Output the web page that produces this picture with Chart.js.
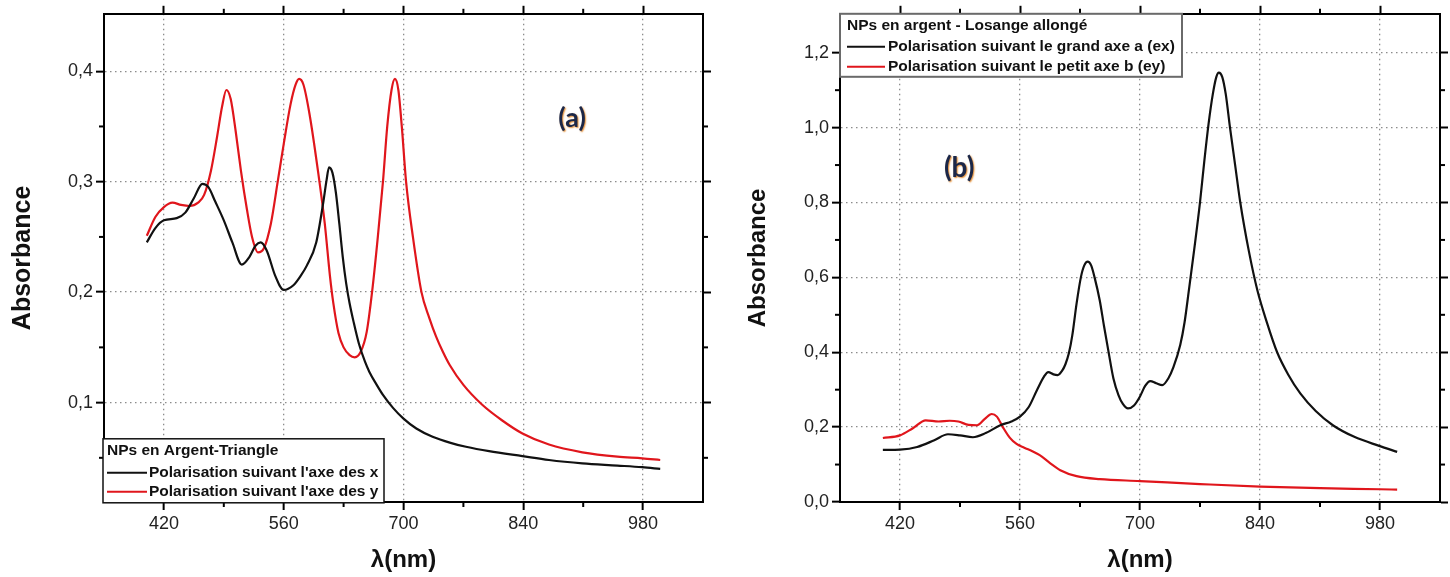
<!DOCTYPE html>
<html><head><meta charset="utf-8">
<script src="https://cdn.jsdelivr.net/npm/chart.js@4/dist/chart.umd.min.js"></script>
<style>
html,body{margin:0;padding:0;background:#fff;}
#wrap{position:relative;width:1450px;height:577px;overflow:hidden;background:#fff;}
.box{position:absolute;top:0;width:725px;height:577px;}
</style></head><body>
<div id="wrap">
<div class="box" style="left:0"><canvas id="ca" width="725" height="577"></canvas></div>
<div class="box" style="left:725px"><canvas id="cb" width="725" height="577"></canvas></div>
</div>
<script>
// ---------- DATA : panel (a) NPs en Argent-Triangle ----------
const aBlackWl  = [400,410,420,435,445,455,465,472,480,490,500,511,520,527,533,540,550,560,571,580,587,598,606,610,613,617,621,625,629,633,637,642,648,655,660,668,676,688,700,715,734,755,773,800,839,870,909,950,979,1000];
const aBlackAbs = [0.245,0.258,0.265,0.267,0.272,0.285,0.298,0.295,0.282,0.265,0.245,0.225,0.232,0.242,0.245,0.238,0.215,0.202,0.206,0.215,0.224,0.245,0.280,0.301,0.313,0.308,0.290,0.262,0.232,0.208,0.190,0.172,0.153,0.137,0.128,0.117,0.107,0.095,0.0855,0.0765,0.069,0.0635,0.060,0.056,0.0515,0.048,0.045,0.043,0.0415,0.040];
const aRedWl  = [400,410,420,430,440,450,460,467,475,482,488,493,498,504,510,517,523,530,537,545,553,560,568,574,578,583,590,600,608,614,618,624,630,637,643,650,657,664,670,676,681,686,690,694,698,703,711,721,730,738,746,754,770,792,815,839,870,909,950,979,1000];
const aRedAbs = [0.251,0.268,0.277,0.281,0.279,0.278,0.281,0.288,0.310,0.340,0.368,0.383,0.375,0.345,0.310,0.275,0.250,0.236,0.240,0.262,0.300,0.334,0.370,0.388,0.393,0.388,0.362,0.310,0.262,0.215,0.190,0.163,0.150,0.143,0.141,0.146,0.164,0.205,0.250,0.300,0.350,0.383,0.393,0.383,0.350,0.300,0.250,0.200,0.177,0.160,0.146,0.134,0.116,0.098,0.084,0.072,0.062,0.055,0.051,0.0495,0.048];
const aLabels = ["Polarisation suivant l'axe des x", "Polarisation suivant l'axe des y"];
const aLegendTitle = "NPs en Argent-Triangle";
const aXTicks = [420,560,700,840,980];
const aXTickLabels = ["420","560","700","840","980"];
const aXMinor = [490,630,770,910];
const aYTicks = [0.1,0.2,0.3,0.4];
const aYTickLabels = ["0,1","0,2","0,3","0,4"];
const aYMinor = [0.05,0.15,0.25,0.35];

// ---------- DATA : panel (b) NPs en argent - Losange allongé ----------
const bBlackWl  = [400,420,440,460,476,490,505,520,537,550,560,570,580,588,593,599,604,609,613,617,621,626,631,635,639,643,647,653,658,663,669,675,680,686,693,700,706,712,719,726,733,739,747,752,757,763,770,775,780,785,789,792,796,800,805,811,817,827,837,848,860,873,887,905,925,950,979,1000];
const bBlackAbs = [0.139,0.140,0.147,0.165,0.181,0.178,0.173,0.184,0.205,0.215,0.228,0.253,0.300,0.335,0.347,0.341,0.339,0.350,0.368,0.397,0.445,0.530,0.600,0.632,0.642,0.632,0.600,0.539,0.470,0.405,0.330,0.285,0.262,0.250,0.258,0.282,0.310,0.323,0.317,0.312,0.330,0.360,0.420,0.480,0.565,0.670,0.800,0.910,1.010,1.090,1.135,1.147,1.135,1.090,1.000,0.900,0.800,0.670,0.565,0.480,0.400,0.340,0.290,0.243,0.205,0.174,0.150,0.134];
const bRedWl  = [400,420,435,450,465,478,488,500,510,519,527,533,540,548,556,565,575,583,595,607,626,653,700,770,840,910,980,1000];
const bRedAbs = [0.171,0.178,0.197,0.218,0.215,0.217,0.215,0.206,0.205,0.222,0.235,0.228,0.200,0.172,0.155,0.145,0.135,0.125,0.104,0.085,0.069,0.061,0.056,0.048,0.041,0.037,0.034,0.033];
const bLabels = ["Polarisation suivant le grand axe a (ex)", "Polarisation suivant le petit axe b (ey)"];
const bLegendTitle = "NPs en argent - Losange allongé";
const bXTicks = [420,560,700,840,980];
const bXTickLabels = ["420","560","700","840","980"];
const bXMinor = [490,630,770,910];
const bYTicks = [0.0,0.2,0.4,0.6,0.8,1.0,1.2];
const bYTickLabels = ["0,0","0,2","0,4","0,6","0,8","1,0","1,2"];
const bYMinor = [0.1,0.3,0.5,0.7,0.9,1.1];

const xTitle = "λ(nm)";
const yTitle = "Absorbance";

// ---------- styling ----------
const FONT = "'Liberation Sans', Arial, 'Helvetica', sans-serif";
const BLACK = '#111111';
const RED = '#e0161c';

const toPts = (xs, ys) => xs.map((x, i) => ({x: x, y: ys[i]}));
const setTicks = vals => scale => { scale.ticks = vals.map(v => ({value: v})); };
const fixW = w => s => { s.width = w; };
const fixH = h => s => { s.height = h; };

const extras = {
  id: 'extras',
  afterDraw(chart, args, o) {
    const ctx = chart.ctx, ca = chart.chartArea;
    const xs = chart.scales.x, ys = chart.scales.y;
    ctx.save();
    ctx.strokeStyle = '#000'; ctx.lineWidth = 2; ctx.setLineDash([]);
    const ln = (x1, y1, x2, y2) => { ctx.beginPath(); ctx.moveTo(x1, y1); ctx.lineTo(x2, y2); ctx.stroke(); };
    o.xMinor.forEach(v => { const p = xs.getPixelForValue(v); ln(p, ca.bottom, p, ca.bottom + 5); ln(p, ca.top, p, ca.top - 5); });
    o.yMinor.forEach(v => { const p = ys.getPixelForValue(v); ln(ca.left, p, ca.left - 5, p); ln(ca.right, p, ca.right + 5, p); });
    // panel label
    const lx = xs.getPixelForValue(o.label.x), ly = ys.getPixelForValue(o.label.y);
    ctx.font = "bold " + o.label.size + "px Lato, 'Open Sans', sans-serif";
    ctx.textAlign = 'center'; ctx.textBaseline = 'middle';
    ctx.shadowColor = 'rgba(225,130,30,0.9)'; ctx.shadowBlur = 1.5; ctx.shadowOffsetX = 1; ctx.shadowOffsetY = 1;
    ctx.fillStyle = '#1b2748';
    ctx.fillText(o.label.text, lx, ly);
    ctx.shadowColor = 'transparent'; ctx.shadowBlur = 0; ctx.shadowOffsetX = 0; ctx.shadowOffsetY = 0;
    // legend box
    const L = o.legend;
    const bx = ca.left + L.dx, by = ca.top + L.dy;
    ctx.fillStyle = '#fff';
    ctx.fillRect(bx, by, L.w, L.h);
    ctx.strokeStyle = L.border; ctx.lineWidth = L.bw;
    ctx.strokeRect(bx, by, L.w, L.h);
    ctx.font = "bold 15.5px " + FONT;
    ctx.textAlign = 'left'; ctx.textBaseline = 'middle';
    ctx.fillStyle = '#111';
    ctx.fillText(L.title, bx + L.tx, by + L.ty);
    chart.data.datasets.forEach((d, i) => {
      const yy = by + L.rows[i];
      ctx.strokeStyle = d.borderColor; ctx.lineWidth = 2;
      ln(bx + L.lx0, yy, bx + L.lx1, yy);
      ctx.fillStyle = '#111';
      ctx.fillText(d.label, bx + L.textX, yy);
    });
    ctx.restore();
  }
};

function buildChart(id, p) {
  const gridMain = {
    color: '#8c8c8c', lineWidth: 1.3, drawTicks: true, tickLength: 8,
    tickColor: '#000', tickWidth: 2, tickBorderDash: []
  };
  const borderMain = {display: true, color: '#000', width: 2, dash: [1.5, 3.5]};
  return new Chart(document.getElementById(id), {
    type: 'line',
    data: {
      datasets: [
        {label: p.labels[0], data: toPts(p.bw, p.ba), borderColor: BLACK, borderWidth: 2.2},
        {label: p.labels[1], data: toPts(p.rw, p.ra), borderColor: RED, borderWidth: 2.2}
      ]
    },
    options: {
      responsive: false, animation: false,
      layout: {padding: 0},
      elements: {point: {radius: 0}, line: {cubicInterpolationMode: 'monotone', fill: false}},
      plugins: {
        legend: {display: false}, tooltip: {enabled: false},
        extras: {xMinor: p.xMinor, yMinor: p.yMinor, label: p.label, legend: p.legend}
      },
      scales: {
        x: {
          type: 'linear', position: 'bottom', min: 350, max: 1050,
          afterBuildTicks: setTicks(p.xTicks), afterFit: fixH(p.bottomH),
          ticks: {callback: (v, i) => p.xTickLabels[i], color: '#222', font: {family: FONT, size: 18}, padding: 3, maxRotation: 0, autoSkip: false},
          grid: gridMain, border: borderMain,
          title: {display: true, text: xTitle, color: '#111', font: {family: FONT, size: 24, weight: 'bold'}, padding: {top: 0, bottom: 2}}
        },
        xTop: {
          type: 'linear', position: 'top', min: 350, max: 1050,
          afterBuildTicks: setTicks(p.xTicks), afterFit: fixH(p.topH),
          ticks: {display: false},
          grid: {drawOnChartArea: false, drawTicks: true, tickLength: 8, tickColor: '#000', tickWidth: 2, tickBorderDash: []},
          border: {display: true, color: '#000', width: 2}
        },
        y: {
          type: 'linear', position: 'left', min: p.yMin, max: p.yMax,
          afterBuildTicks: setTicks(p.yTicks), afterFit: fixW(p.leftW),
          ticks: {callback: (v, i) => p.yTickLabels[i], color: '#222', font: {family: FONT, size: 18}, padding: 3, autoSkip: false},
          grid: gridMain, border: borderMain,
          title: {display: true, text: yTitle, color: '#111', font: {family: FONT, size: p.yTitleSize, weight: 'bold'}, padding: {top: p.yTitlePad, bottom: 0}}
        },
        yRight: {
          type: 'linear', position: 'right', min: p.yMin, max: p.yMax,
          afterBuildTicks: setTicks(p.yTicks), afterFit: fixW(p.rightW),
          ticks: {display: false},
          grid: {drawOnChartArea: false, drawTicks: true, tickLength: 8, tickColor: '#000', tickWidth: 2, tickBorderDash: []},
          border: {display: true, color: '#000', width: 2}
        }
      }
    },
    plugins: [extras]
  });
}

buildChart('ca', {
  bw: aBlackWl, ba: aBlackAbs, rw: aRedWl, ra: aRedAbs, labels: aLabels,
  xTicks: aXTicks, xTickLabels: aXTickLabels, xMinor: aXMinor,
  yTicks: aYTicks, yTickLabels: aYTickLabels, yMinor: aYMinor,
  yMin: 0.01, yMax: 0.452,
  leftW: 104, rightW: 22, topH: 10, bottomH: 75,
  yTitleSize: 25, yTitlePad: 8,
  label: {text: '(a)', x: 897, y: 0.357, size: 27},
  legend: {title: aLegendTitle, dx: -1, dy: 425, w: 281, h: 64, border: '#111', bw: 1.5,
           tx: 4, ty: 12, rows: [34, 53], lx0: 4, lx1: 44, textX: 46}
});

buildChart('cb', {
  bw: bBlackWl, ba: bBlackAbs, rw: bRedWl, ra: bRedAbs, labels: bLabels,
  xTicks: bXTicks, xTickLabels: bXTickLabels, xMinor: bXMinor,
  yTicks: bYTicks, yTickLabels: bYTickLabels, yMinor: bYMinor,
  yMin: 0.0, yMax: 1.304,
  leftW: 115, rightW: 10, topH: 13, bottomH: 75,
  yTitleSize: 24, yTitlePad: 19,
  label: {text: '(b)', x: 489, y: 0.893, size: 28},
  legend: {title: bLegendTitle, dx: 0, dy: 0, w: 342, h: 63, border: '#6a6a6a', bw: 2,
           tx: 7, ty: 12, rows: [33, 53], lx0: 7, lx1: 45, textX: 48}
});
</script>
</body></html>
